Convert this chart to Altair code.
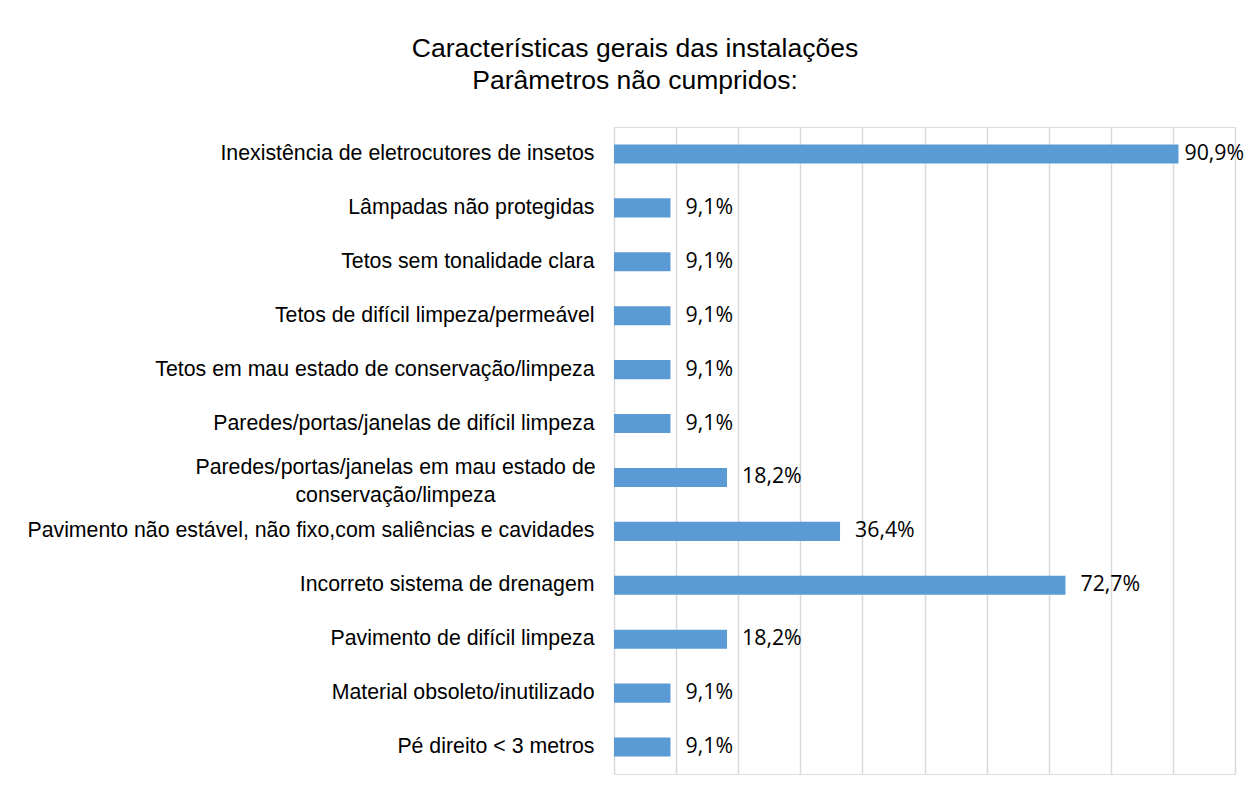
import altair as alt
import pandas as pd

categories = [
    "Inexistência de eletrocutores de insetos",
    "Lâmpadas não protegidas",
    "Tetos sem tonalidade clara",
    "Tetos de difícil limpeza/permeável",
    "Tetos em mau estado de conservação/limpeza",
    "Paredes/portas/janelas de difícil limpeza",
    "Paredes/portas/janelas em mau estado de conservação/limpeza",
    "Pavimento não estável, não fixo,com saliências e cavidades",
    "Incorreto sistema de drenagem",
    "Pavimento de difícil limpeza",
    "Material obsoleto/inutilizado",
    "Pé direito < 3 metros",
]
values = [90.9, 9.1, 9.1, 9.1, 9.1, 9.1, 18.2, 36.4, 72.7, 18.2, 9.1, 9.1]
grid_ticks = [0, 10, 20, 30, 40, 50, 60, 70, 80, 90, 100]

df = pd.DataFrame({"cat": categories, "v": values})

two_line = "Paredes/portas/janelas em mau estado de conservação/limpeza"
test = "datum.value == '" + two_line + "'"
label_expr = (
    test + " ? ['Paredes/portas/janelas em mau estado de', 'conservação/limpeza'] : datum.value"
)

y_enc = alt.Y(
    "cat:N",
    sort=categories,
    title=None,
    scale=alt.Scale(paddingInner=0.647, paddingOuter=0.3235),
    axis=alt.Axis(
        domain=False,
        ticks=False,
        labelFont="Liberation Sans",
        labelFontSize=21.3,
        labelColor="#000000",
        labelPadding={"condition": {"test": test, "value": 219}, "value": 20},
        labelAlign={"condition": {"test": test, "value": "center"}, "value": "right"},
        labelOffset={"condition": {"test": test, "value": -9}, "value": 0},
        labelLimit=1000,
        labelLineHeight=28,
        labelExpr=label_expr,
        minExtent=606,
        maxExtent=606,
    ),
)

x_enc = alt.X(
    "v:Q",
    title=None,
    scale=alt.Scale(domain=[0, 100], nice=False),
    axis=alt.Axis(
        values=grid_ticks,
        labels=False,
        ticks=False,
        domain=False,
        grid=True,
        gridColor="#D9D9D9",
        gridWidth=1.5,
    ),
)

base = alt.Chart(df)

bars = base.mark_bar(color="#5B9BD5").encode(x=x_enc, y=y_enc)

labels = (
    base.transform_calculate(
        lbl="replace(format(datum.v, '.1f'), '.', ',') + '%'"
    )
    .mark_text(
        align="left",
        baseline="middle",
        dx=alt.ExprRef("datum.v > 90 ? 6 : 15"),
        font="Open Sans",
        fontSize=21.3,
        color="#000000",
    )
    .encode(x="v:Q", y=alt.Y("cat:N", sort=categories), text="lbl:N")
)

chart = (
    alt.layer(bars, labels)
    .properties(
        width=621,
        height=647,
        autosize=alt.AutoSizeParams(type="none"),
        padding={"left": 606, "top": 119, "right": 10, "bottom": 12},
        title=alt.TitleParams(
            text=["Características gerais das instalações", "Parâmetros não cumpridos:"],
            font="Liberation Sans",
            fontSize=26.5,
            fontWeight="normal",
            color="#000000",
            lineHeight=31.5,
            anchor="middle",
            frame="group",
            dx=-289.5,
            offset=33,
        ),
    )
    .configure_view(stroke=None)
    .configure(background="white")
)

chart.save("out.html", embed_options={"renderer": "svg", "actions": False})
